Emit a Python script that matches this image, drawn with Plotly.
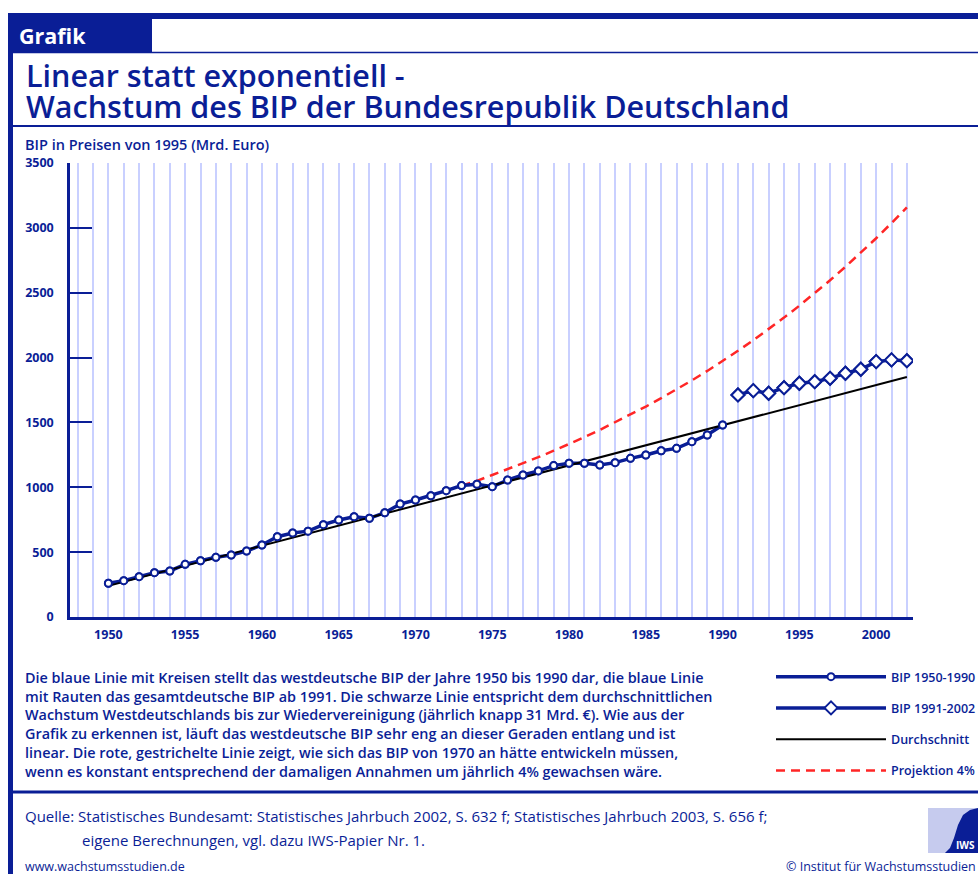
import plotly.graph_objects as go

# ---------------- data ----------------
west_years = list(range(1950, 1991))
west_gdp = [260, 280, 311, 342, 355, 406, 434, 460, 478, 509,
            555, 619, 648, 662, 712, 748, 773, 761, 804, 871,
            902, 935, 974, 1013, 1023, 1005, 1056, 1095, 1126, 1167,
            1185, 1185, 1172, 1190, 1223, 1249, 1282, 1300, 1352, 1403,
            1480]
all_years = list(range(1991, 2003))
all_gdp = [1712, 1745, 1725, 1768, 1802, 1814, 1840, 1879, 1910, 1969, 1982, 1976]
avg_years = [1950, 2002]
avg_gdp = [240, 1850]
proj_years = list(range(1973, 2003))
proj_gdp = [1013, 1050, 1095, 1140, 1185, 1232, 1282, 1333, 1386, 1442,
            1500, 1560, 1622, 1687, 1754, 1824, 1897, 1973, 2052, 2134,
            2219, 2308, 2400, 2496, 2596, 2700, 2808, 2920, 3037, 3158]
x_ticks = [1950, 1955, 1960, 1965, 1970, 1975, 1980, 1985, 1990, 1995, 2000]
y_ticks = [0, 500, 1000, 1500, 2000, 2500, 3000, 3500]

# ---------------- geometry (page pixels) ----------------
W, H = 978, 874
L, R, T, B = 70, 913, 163, 617
DARK = "#0a1e96"
GRID = "#c9d0ff"
FONT = "Open Sans, sans-serif"


def px(x):
    return (x - L) / (R - L)


def py(y):
    return (B - y) / (B - T)


fig = go.Figure()

fig.add_trace(go.Scatter(x=proj_years, y=proj_gdp, mode="lines", name="Projektion 4%",
                         line=dict(color="#ff2626", width=2.5, dash="9px,6px"),
                         legendrank=4, legendgroup="d"))
fig.add_trace(go.Scatter(x=west_years, y=west_gdp, mode="lines+markers", name="BIP 1950-1990",
                         line=dict(color=DARK, width=3.5),
                         marker=dict(symbol="circle", size=7, color="white",
                                     line=dict(color=DARK, width=2)),
                         legendrank=1, legendgroup="a"))
fig.add_trace(go.Scatter(x=all_years, y=all_gdp, mode="lines+markers", name="BIP 1991-2002",
                         line=dict(color=DARK, width=3.5),
                         marker=dict(symbol="diamond", size=10, color="white",
                                     line=dict(color=DARK, width=2)),
                         legendrank=2, legendgroup="b"))
fig.add_trace(go.Scatter(x=avg_years, y=avg_gdp, mode="lines", name="Durchschnitt",
                         line=dict(color="black", width=2),
                         legendrank=3, legendgroup="c"))
fig.add_trace(go.Scatter(x=west_years, y=west_gdp, mode="markers", showlegend=False,
                         marker=dict(symbol="circle", size=7, color="white",
                                     line=dict(color=DARK, width=2))))
fig.add_trace(go.Scatter(x=all_years, y=all_gdp, mode="markers", showlegend=False,
                         marker=dict(symbol="diamond", size=10, color="white",
                                     line=dict(color=DARK, width=2))))

fig.update_xaxes(range=[1947.5, 2002.4], tickvals=x_ticks, ticktext=[str(v) for v in x_ticks],
                 showgrid=True, gridcolor=GRID, gridwidth=1.5,
                 minor=dict(dtick=1, tick0=1948, showgrid=True, gridcolor=GRID, gridwidth=1.5),
                 showline=True, linecolor=DARK, linewidth=2.5, ticks="", zeroline=False,
                 tickfont=dict(family=FONT, size=12.5, color=DARK, weight="bold"),
                 ticklabelstandoff=4, fixedrange=True)
fig.update_yaxes(range=[0, 3500], tickvals=y_ticks, showgrid=False, zeroline=False,
                 showline=True, linecolor=DARK, linewidth=2.5,
                 ticks="inside", ticklen=22, tickwidth=2, tickcolor=DARK,
                 tickfont=dict(family=FONT, size=12.5, color=DARK, weight="bold"),
                 ticklabelstandoff=11, fixedrange=True)

shapes = []
# frame
shapes.append(dict(type="rect", xref="paper", yref="paper", x0=px(8), x1=px(990), y0=py(19), y1=py(13),
                   fillcolor=DARK, line=dict(width=0), layer="above"))
shapes.append(dict(type="rect", xref="paper", yref="paper", x0=px(8), x1=px(13), y0=py(890), y1=py(13),
                   fillcolor=DARK, line=dict(width=0), layer="above"))
# Grafik box
shapes.append(dict(type="rect", xref="paper", yref="paper", x0=px(8), x1=px(152), y0=py(52), y1=py(14),
                   fillcolor=DARK, line=dict(width=0), layer="above"))
# thin line under Grafik box
shapes.append(dict(type="line", xref="paper", yref="paper", x0=px(13), x1=px(990), y0=py(52.5), y1=py(52.5),
                   line=dict(color=DARK, width=1.5), layer="above"))
# line under title
shapes.append(dict(type="line", xref="paper", yref="paper", x0=px(13), x1=px(990), y0=py(126), y1=py(126),
                   line=dict(color=DARK, width=2), layer="above"))
# separator above footer
shapes.append(dict(type="line", xref="paper", yref="paper", x0=px(13), x1=px(990), y0=py(792), y1=py(792),
                   line=dict(color=DARK, width=3), layer="above"))
# logo
shapes.append(dict(type="rect", xref="paper", yref="paper", x0=px(928), x1=px(978), y0=py(853), y1=py(808),
                   fillcolor="#c6cbee", line=dict(width=0), layer="above"))
pts = [(945, 853), (950, 848), (954, 838), (958, 825), (963, 815), (970, 810), (978, 808), (978, 853)]
path = "M " + " L ".join(f"{px(a):.5f},{py(b):.5f}" for a, b in pts) + " Z"
shapes.append(dict(type="path", xref="paper", yref="paper", path=path,
                   fillcolor=DARK, line=dict(width=0), layer="above"))

ann = []


def text(x, y, s, size, color=DARK, weight="bold", xanchor="left", yanchor="middle", align="left"):
    ann.append(dict(x=px(x), y=py(y), xref="paper", yref="paper", text=s, showarrow=False,
                    xanchor=xanchor, yanchor=yanchor, align=align,
                    font=dict(family=FONT, size=size, color=color, weight=weight)))


text(17, 35, "Grafik", 21.5, color="white")
text(24, 75, "Linear statt exponentiell -", 30.5, weight=600)
text(24, 106, "Wachstum des BIP der Bundesrepublik Deutschland", 30.5, weight=600)
text(23, 145, "BIP in Preisen von 1995 (Mrd. Euro)", 14.5, weight=600)

para = ("Die blaue Linie mit Kreisen stellt das westdeutsche BIP der Jahre 1950 bis 1990 dar, die blaue Linie<br>"
        "mit Rauten das gesamtdeutsche BIP ab 1991. Die schwarze Linie entspricht dem durchschnittlichen<br>"
        "Wachstum Westdeutschlands bis zur Wiedervereinigung (jährlich knapp 31 Mrd. €). Wie aus der<br>"
        "Grafik zu erkennen ist, läuft das westdeutsche BIP sehr eng an dieser Geraden entlang und ist<br>"
        "linear. Die rote, gestrichelte Linie zeigt, wie sich das BIP von 1970 an hätte entwickeln müssen,<br>"
        "wenn es konstant entsprechend der damaligen Annahmen um jährlich 4% gewachsen wäre.")
ann.append(dict(x=px(23), y=py(666), xref="paper", yref="paper", text=para, showarrow=False,
                xanchor="left", yanchor="top", align="left",
                font=dict(family=FONT, size=14.4, color=DARK, weight=600)))

text(23, 816, "Quelle: Statistisches Bundesamt: Statistisches Jahrbuch 2002, S. 632 f; Statistisches Jahrbuch 2003, S. 656 f;", 15, weight="normal")
text(80, 840, "eigene Berechnungen, vgl. dazu IWS-Papier Nr. 1.", 15, weight="normal")
text(23, 866, "www.wachstumsstudien.de", 12.5, weight="normal")
text(978, 866, "© Institut für Wachstumsstudien", 12.5, weight="normal", xanchor="right")
text(977, 845, "IWS", 10, color="white", xanchor="right")

fig.update_layout(
    width=W, height=H,
    margin=dict(l=L, r=W - R, t=T, b=H - B, autoexpand=False),
    paper_bgcolor="white", plot_bgcolor="white",
    shapes=shapes, annotations=ann,
    showlegend=True,
    legend=dict(x=px(771), y=py(662), xanchor="left", yanchor="top",
                bgcolor="rgba(0,0,0,0)", itemwidth=110, traceorder="grouped",
                tracegroupgap=12, font=dict(family=FONT, size=12.5, color=DARK, weight=600)),
)

fig.write_html("out.html", config={"displayModeBar": False, "staticPlot": False},
               post_script="document.body.style.margin='0';"
                           "document.documentElement.style.overflow='hidden';"
                           "document.body.style.overflow='hidden';")
